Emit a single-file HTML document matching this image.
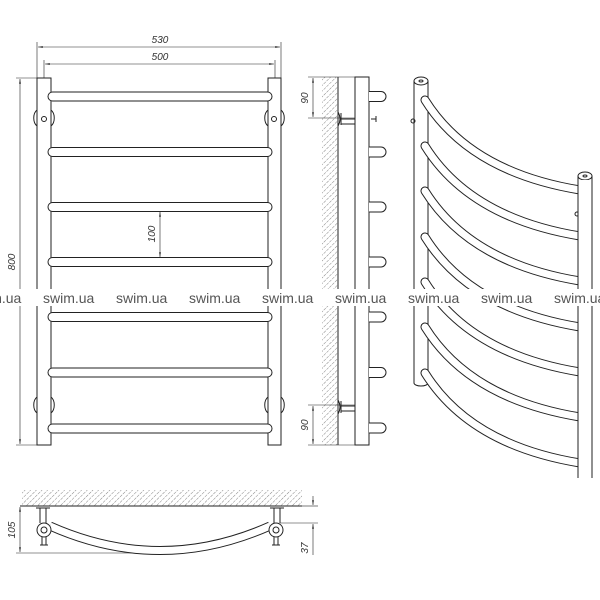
<!DOCTYPE html>
<html><head><style>
html,body{margin:0;padding:0;background:#fff;width:600px;height:600px;overflow:hidden}
svg{display:block}
.t{font-family:"Liberation Sans",sans-serif;font-size:10px;font-style:italic;fill:#333}
.w{font-family:"Liberation Sans",sans-serif;font-size:14px;fill:#555}
</style></head><body>
<svg width="600" height="600" viewBox="0 0 600 600">
<defs>
<pattern id="h" width="4" height="4" patternUnits="userSpaceOnUse" patternTransform="rotate(45)">
<line x1="0" y1="0" x2="0" y2="4" stroke="#777" stroke-width="0.9" stroke-dasharray="2.5,1"/>
</pattern>
<marker id="a" markerWidth="8" markerHeight="6" refX="8" refY="3" orient="auto"><path d="M0,1.5 L8,3 L0,4.5z" fill="#222"/></marker>
<marker id="b" markerWidth="8" markerHeight="6" refX="0" refY="3" orient="auto"><path d="M8,1.5 L0,3 L8,4.5z" fill="#222"/></marker>
</defs>
<g stroke="#222" fill="none" stroke-width="1">
<line x1="37" y1="42" x2="37" y2="78" stroke-width="0.6"/>
<line x1="281" y1="42" x2="281" y2="78" stroke-width="0.6"/>
<line x1="44" y1="60" x2="44" y2="78" stroke-width="0.6"/>
<line x1="275" y1="60" x2="275" y2="78" stroke-width="0.6"/>
<line x1="38" y1="47" x2="280" y2="47" stroke-width="0.6" marker-start="url(#b)" marker-end="url(#a)"/>
<line x1="45" y1="64" x2="274" y2="64" stroke-width="0.6" marker-start="url(#b)" marker-end="url(#a)"/>
<line x1="16" y1="78" x2="37" y2="78" stroke-width="0.6"/>
<line x1="16" y1="445" x2="37" y2="445" stroke-width="0.6"/>
<line x1="20" y1="79" x2="20" y2="444" stroke-width="0.6" marker-start="url(#b)" marker-end="url(#a)"/>
<line x1="160" y1="212" x2="160" y2="257" stroke-width="0.6" marker-start="url(#b)" marker-end="url(#a)"/>
<rect x="37" y="78" width="14" height="367" fill="#fff"/>
<rect x="268" y="78" width="13" height="367" fill="#fff"/>
<path d="M37,110 a6,9 0 0,0 0,16 M51,110 a6,9 0 0,1 0,16 M268,110 a6,9 0 0,0 0,16 M281,110 a6,9 0 0,1 0,16"/>
<path d="M37,397 a6,9 0 0,0 0,16 M51,397 a6,9 0 0,1 0,16 M268,397 a6,9 0 0,0 0,16 M281,397 a6,9 0 0,1 0,16"/>
<circle cx="44" cy="119" r="2.5"/><circle cx="274" cy="119" r="2.5"/>
<g fill="#fff">
<rect x="48" y="92" width="224" height="9" rx="4.5"/>
<rect x="48" y="147.5" width="224" height="9" rx="4.5"/>
<rect x="48" y="202.5" width="224" height="9" rx="4.5"/>
<rect x="48" y="257.5" width="224" height="9" rx="4.5"/>
<rect x="48" y="312.5" width="224" height="9" rx="4.5"/>
<rect x="48" y="368" width="224" height="9" rx="4.5"/>
<rect x="48" y="424" width="224" height="9" rx="4.5"/>
</g>
<rect x="322" y="77" width="16" height="368" fill="url(#h)" stroke="none"/>
<line x1="338" y1="77" x2="338" y2="445"/>
<line x1="308" y1="77" x2="355" y2="77" stroke-width="0.6"/>
<line x1="308" y1="118" x2="355" y2="118" stroke-width="0.6"/>
<line x1="308" y1="405" x2="355" y2="405" stroke-width="0.6"/>
<line x1="308" y1="445" x2="355" y2="445" stroke-width="0.6"/>
<line x1="313" y1="78" x2="313" y2="117" stroke-width="0.6" marker-start="url(#b)" marker-end="url(#a)"/>
<line x1="313" y1="406" x2="313" y2="444" stroke-width="0.6" marker-start="url(#b)" marker-end="url(#a)"/>
<rect x="355" y="77" width="14" height="368" fill="#fff"/>
<path d="M338,112 q4,7 0,14 M341,113 l0,12 M341,119 L355,119 M341,124 L355,124"/>
<path d="M338,400 q4,7 0,14 M341,401 l0,12 M341,406 L355,406 M341,411 L355,411"/>
<path d="M371,119 l5,0 M376,116 l0,6"/>
<g fill="#fff">
<path d="M369,91.5 h12 a5,5 0 0,1 0,10 h-12"/>
<path d="M369,147 h12 a5,5 0 0,1 0,10 h-12"/>
<path d="M369,202 h12 a5,5 0 0,1 0,10 h-12"/>
<path d="M369,257 h12 a5,5 0 0,1 0,10 h-12"/>
<path d="M369,312 h12 a5,5 0 0,1 0,10 h-12"/>
<path d="M369,367.5 h12 a5,5 0 0,1 0,10 h-12"/>
<path d="M369,423 h12 a5,5 0 0,1 0,10 h-12"/>
</g>
<path d="M414,81 L414,383 a7,3 0 0,0 14,0 L428,81" fill="#fff"/>
<ellipse cx="421" cy="81" rx="7" ry="4" fill="#fff"/><ellipse cx="421" cy="81" rx="2" ry="1"/>
<path d="M578,176 L578,470 M592,176 L592,470"/>
<ellipse cx="585" cy="176" rx="7" ry="4" fill="#fff"/><ellipse cx="585" cy="176" rx="2" ry="1"/>
<circle cx="413" cy="121" r="2"/><circle cx="577" cy="214" r="2"/>
</g>
<g fill="none" stroke-linecap="round">
<g stroke="#222" stroke-width="9">
<path d="M425,100 Q470,172 580,190"/><path d="M425,146 Q470,218 580,236"/><path d="M425,191 Q470,263 580,281"/><path d="M425,237 Q470,309 580,327"/><path d="M425,282 Q470,354 580,372"/><path d="M425,327 Q470,399 580,417"/><path d="M425,373 Q470,445 580,463"/>
</g>
<g stroke="#fff" stroke-width="7">
<path d="M425,100 Q470,172 580,190"/><path d="M425,146 Q470,218 580,236"/><path d="M425,191 Q470,263 580,281"/><path d="M425,237 Q470,309 580,327"/><path d="M425,282 Q470,354 580,372"/><path d="M425,327 Q470,399 580,417"/><path d="M425,373 Q470,445 580,463"/>
</g>
</g>
<rect x="578" y="180" width="14" height="295" fill="#fff" stroke="none"/>
<path d="M578,178 L578,478 M592,178 L592,478" stroke="#222"/>
<rect x="22" y="490" width="280" height="16" fill="url(#h)"/>
<g stroke="#222" fill="none" stroke-width="1">
<line x1="20" y1="506" x2="302" y2="506"/>
<line x1="16" y1="553" x2="140" y2="553" stroke-width="0.6"/>
<line x1="20" y1="507" x2="20" y2="552" stroke-width="0.6" marker-start="url(#b)" marker-end="url(#a)"/>
<line x1="280" y1="523" x2="318" y2="523" stroke-width="0.6"/>
<line x1="302" y1="506" x2="318" y2="506" stroke-width="0.6"/>
<line x1="313" y1="496" x2="313" y2="505" stroke-width="0.6" marker-end="url(#a)"/>
<line x1="313" y1="540" x2="313" y2="524" stroke-width="0.6" marker-end="url(#a)"/>
<line x1="313" y1="540" x2="313" y2="555" stroke-width="0.6"/>
<path d="M50,526 Q160,575 270,526" stroke-width="9" stroke="#222"/>
<path d="M50,526 Q160,575 270,526" stroke-width="7" stroke="#fff"/>
<path d="M36,508 h14 M40,508 v15 M46,508 v15 M270,508 h14 M274,508 v15 M280,508 v15"/>
<circle cx="44" cy="530" r="7" fill="#fff"/><circle cx="44" cy="530" r="3"/>
<circle cx="276" cy="530" r="7" fill="#fff"/><circle cx="276" cy="530" r="3"/>
<path d="M42,537 v8 M46,537 v8 M40,545 h8 M274,537 v8 M278,537 v8 M272,545 h8"/>
</g>
<text class="t" x="160" y="43" text-anchor="middle">530</text>
<text class="t" x="160" y="60" text-anchor="middle">500</text>
<text class="t" transform="translate(15,262) rotate(-90)" text-anchor="middle">800</text>
<text class="t" transform="translate(155,234) rotate(-90)" text-anchor="middle">100</text>
<text class="t" transform="translate(308,98) rotate(-90)" text-anchor="middle">90</text>
<text class="t" transform="translate(308,425) rotate(-90)" text-anchor="middle">90</text>
<text class="t" transform="translate(15,530) rotate(-90)" text-anchor="middle">105</text>
<text class="t" transform="translate(308,548) rotate(-90)" text-anchor="middle">37</text>
<g class="w">
<rect x="0" y="289" width="600" height="17" fill="#fff"/>
<text x="-30" y="303">swim.ua</text><text x="43" y="303">swim.ua</text><text x="116" y="303">swim.ua</text><text x="189" y="303">swim.ua</text><text x="262" y="303">swim.ua</text><text x="335" y="303">swim.ua</text><text x="408" y="303">swim.ua</text><text x="481" y="303">swim.ua</text><text x="554" y="303">swim.ua</text>
</g>
</svg>
</body></html>
